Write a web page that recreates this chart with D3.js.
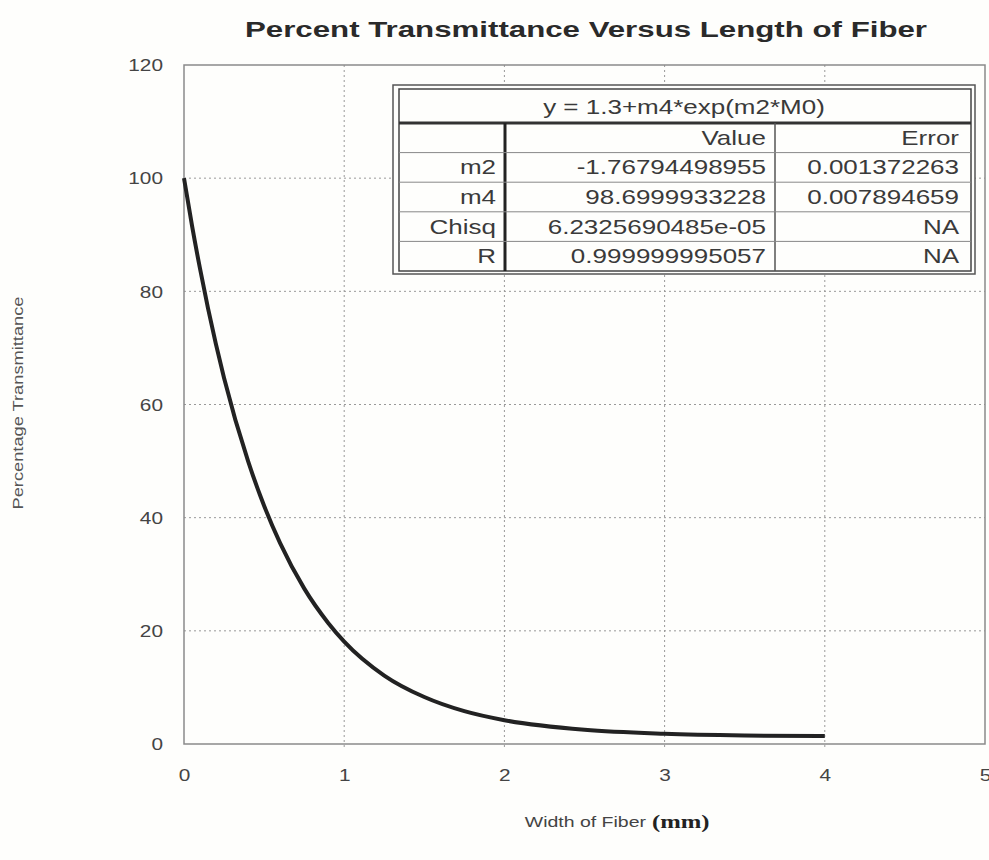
<!DOCTYPE html>
<html lang="en">
<head>
    <meta charset="UTF-8">
    <title>Percent Transmittance Versus Length of Fiber</title>
    <script src="https://cdn.jsdelivr.net/npm/d3@7"></script>
    <style>
        body { margin: 0; background: #fefefc; }
        svg { font-family: "Liberation Sans", Arial, sans-serif; }
        .grid line { stroke: #999; stroke-dasharray: 2 3; stroke-width: 1; }
        .tick-label { font-size: 16px; fill: #444; }
        .cell { font-size: 20px; fill: #3a3a3a; }
    </style>
</head>
<body>
    <svg width="989" height="860"></svg>
    <script>
        // values
        const fiberWidth = [0, 0.05, 0.1, 0.15, 0.25, 0.4, 0.5, 0.6, 0.75, 0.9, 1, 1.25, 1.5, 1.75, 2, 2.5, 3, 3.5, 4];
        const transmittance = [100, 91.6, 84.0, 77.0, 64.7, 50.0, 42.1, 35.5, 27.5, 21.4, 18.1, 12.1, 8.3, 5.8, 4.2, 2.5, 1.8, 1.5, 1.4];
        const xTicks = [0, 1, 2, 3, 4, 5];
        const yTicks = [0, 20, 40, 60, 80, 100, 120];

        // fit results table
        const fitTitle = "y = 1.3+m4*exp(m2*M0)";
        const tableHeader = ["", "Value", "Error"];
        const tableNames = ["m2", "m4", "Chisq", "R"];
        const tableValues = ["-1.76794498955", "98.6999933228", "6.2325690485e-05", "0.999999995057"];
        const tableErrors = ["0.001372263", "0.007894659", "NA", "NA"];

        const svg = d3.select("svg");
        const plotL = 184, plotR = 985, plotT = 65, plotB = 744;
        const stretch = 1.3; // the original lettering is wide

        const x = d3.scaleLinear().domain([0, 5]).range([plotL, plotR]);
        const y = d3.scaleLinear().domain([0, 120]).range([plotB, plotT]);

        function wideText(parent, px, py, str, anchor, cls, sx) {
            return parent.append("text")
                .attr("class", cls)
                .attr("transform", `translate(${px},${py}) scale(${sx || stretch},1)`)
                .attr("text-anchor", anchor)
                .text(str);
        }

        // title
        svg.append("text")
            .attr("x", 586).attr("y", 37)
            .attr("text-anchor", "middle")
            .attr("textLength", 682).attr("lengthAdjust", "spacingAndGlyphs")
            .style("font-size", "22px").style("font-weight", "bold").style("fill", "#2a2a2a")
            .text("Percent Transmittance Versus Length of Fiber");

        // grid
        const grid = svg.append("g").attr("class", "grid");
        grid.selectAll(".vx").data(xTicks.filter(d => d > 0 && d < 5)).enter().append("line")
            .attr("x1", d => x(d)).attr("x2", d => x(d))
            .attr("y1", plotT).attr("y2", plotB + 6);
        grid.selectAll(".hy").data(yTicks.filter(d => d > 0 && d < 120)).enter().append("line")
            .attr("x1", plotL).attr("x2", plotR)
            .attr("y1", d => y(d)).attr("y2", d => y(d));

        // frame
        svg.append("rect")
            .attr("x", plotL).attr("y", plotT)
            .attr("width", plotR - plotL).attr("height", plotB - plotT)
            .attr("fill", "none").attr("stroke", "#8a8a8a").attr("stroke-width", 1.5);

        // axes: d3 axis for placement, lines hidden, labels widened
        const xAxis = svg.append("g")
            .attr("transform", `translate(0,${plotB + 37})`)
            .call(d3.axisBottom(x).tickValues(xTicks).tickSize(0).tickFormat(d3.format("d")));
        xAxis.select(".domain").remove();
        xAxis.selectAll("text").attr("class", "tick-label")
            .attr("y", 0).attr("dy", 0)
            .attr("transform", `scale(${stretch},1)`);

        const yAxis = svg.append("g")
            .attr("transform", `translate(${plotL - 21},0)`)
            .call(d3.axisLeft(y).tickValues(yTicks).tickSize(0).tickFormat(d3.format("d")));
        yAxis.select(".domain").remove();
        yAxis.selectAll("text").attr("class", "tick-label")
            .attr("x", 0).attr("dy", "0.36em")
            .attr("transform", `scale(${stretch},1)`);

        // axis titles
        wideText(svg, 646, 827, "Width of Fiber", "end", "", 1.3)
            .style("font-size", "15px").style("fill", "#444");
        wideText(svg, 652, 828, "(mm)", "start", "", 1.3)
            .style("font-family", "'Liberation Serif', 'DejaVu Serif', serif")
            .style("font-weight", "bold").style("font-size", "19px").style("fill", "#222");

        svg.append("text")
            .attr("transform", "translate(23,403) rotate(-90)")
            .attr("text-anchor", "middle")
            .attr("textLength", 213).attr("lengthAdjust", "spacingAndGlyphs")
            .style("font-size", "15px").style("fill", "#555")
            .text("Percentage Transmittance");

        // curve
        const pts = fiberWidth.map((d, i) => [d, transmittance[i]]);
        svg.append("path")
            .datum(pts)
            .attr("fill", "none")
            .attr("stroke", "#222")
            .attr("stroke-width", 4)
            .attr("stroke-linecap", "butt")
            .attr("d", d3.line().x(d => x(d[0])).y(d => y(d[1])).curve(d3.curveMonotoneX));

        // table
        const tb = { x0: 393, x1: 975, y0: 85, y1: 274 };
        const inner = { x0: 399, x1: 971, y0: 89, y1: 271 };
        const col1 = 505, col2 = 775;
        const headBottom = 123;
        const rowH = (inner.y1 - headBottom) / 5;
        const t = svg.append("g");
        t.append("rect").attr("x", tb.x0).attr("y", tb.y0)
            .attr("width", tb.x1 - tb.x0).attr("height", tb.y1 - tb.y0)
            .attr("fill", "#fefefc").attr("stroke", "#555").attr("stroke-width", 1.5);
        t.append("rect").attr("x", inner.x0).attr("y", inner.y0)
            .attr("width", inner.x1 - inner.x0).attr("height", inner.y1 - inner.y0)
            .attr("fill", "none").attr("stroke", "#444").attr("stroke-width", 1.5);
        t.append("line").attr("x1", inner.x0).attr("x2", inner.x1)
            .attr("y1", headBottom).attr("y2", headBottom)
            .attr("stroke", "#333").attr("stroke-width", 3);
        t.append("line").attr("x1", col1).attr("x2", col1)
            .attr("y1", headBottom).attr("y2", inner.y1)
            .attr("stroke", "#222").attr("stroke-width", 3);
        t.append("line").attr("x1", col2).attr("x2", col2)
            .attr("y1", headBottom).attr("y2", inner.y1)
            .attr("stroke", "#555").attr("stroke-width", 1.5);
        for (let i = 1; i < 5; i++) {
            t.append("line").attr("x1", inner.x0).attr("x2", inner.x1)
                .attr("y1", headBottom + rowH * i).attr("y2", headBottom + rowH * i)
                .attr("stroke", "#888").attr("stroke-width", 1);
        }
        wideText(t, 684, 114, fitTitle, "middle", "cell");

        const rows = [tableHeader].concat(tableNames.map((n, i) => [n, tableValues[i], tableErrors[i]]));
        const colRight = [col1 - 9, col2 - 9, inner.x1 - 12];
        rows.forEach((r, i) => {
            r.forEach((c, j) => {
                wideText(t, colRight[j], headBottom + rowH * i + rowH / 2 + 7, c, "end", "cell");
            });
        });
    </script>
</body>
</html>
